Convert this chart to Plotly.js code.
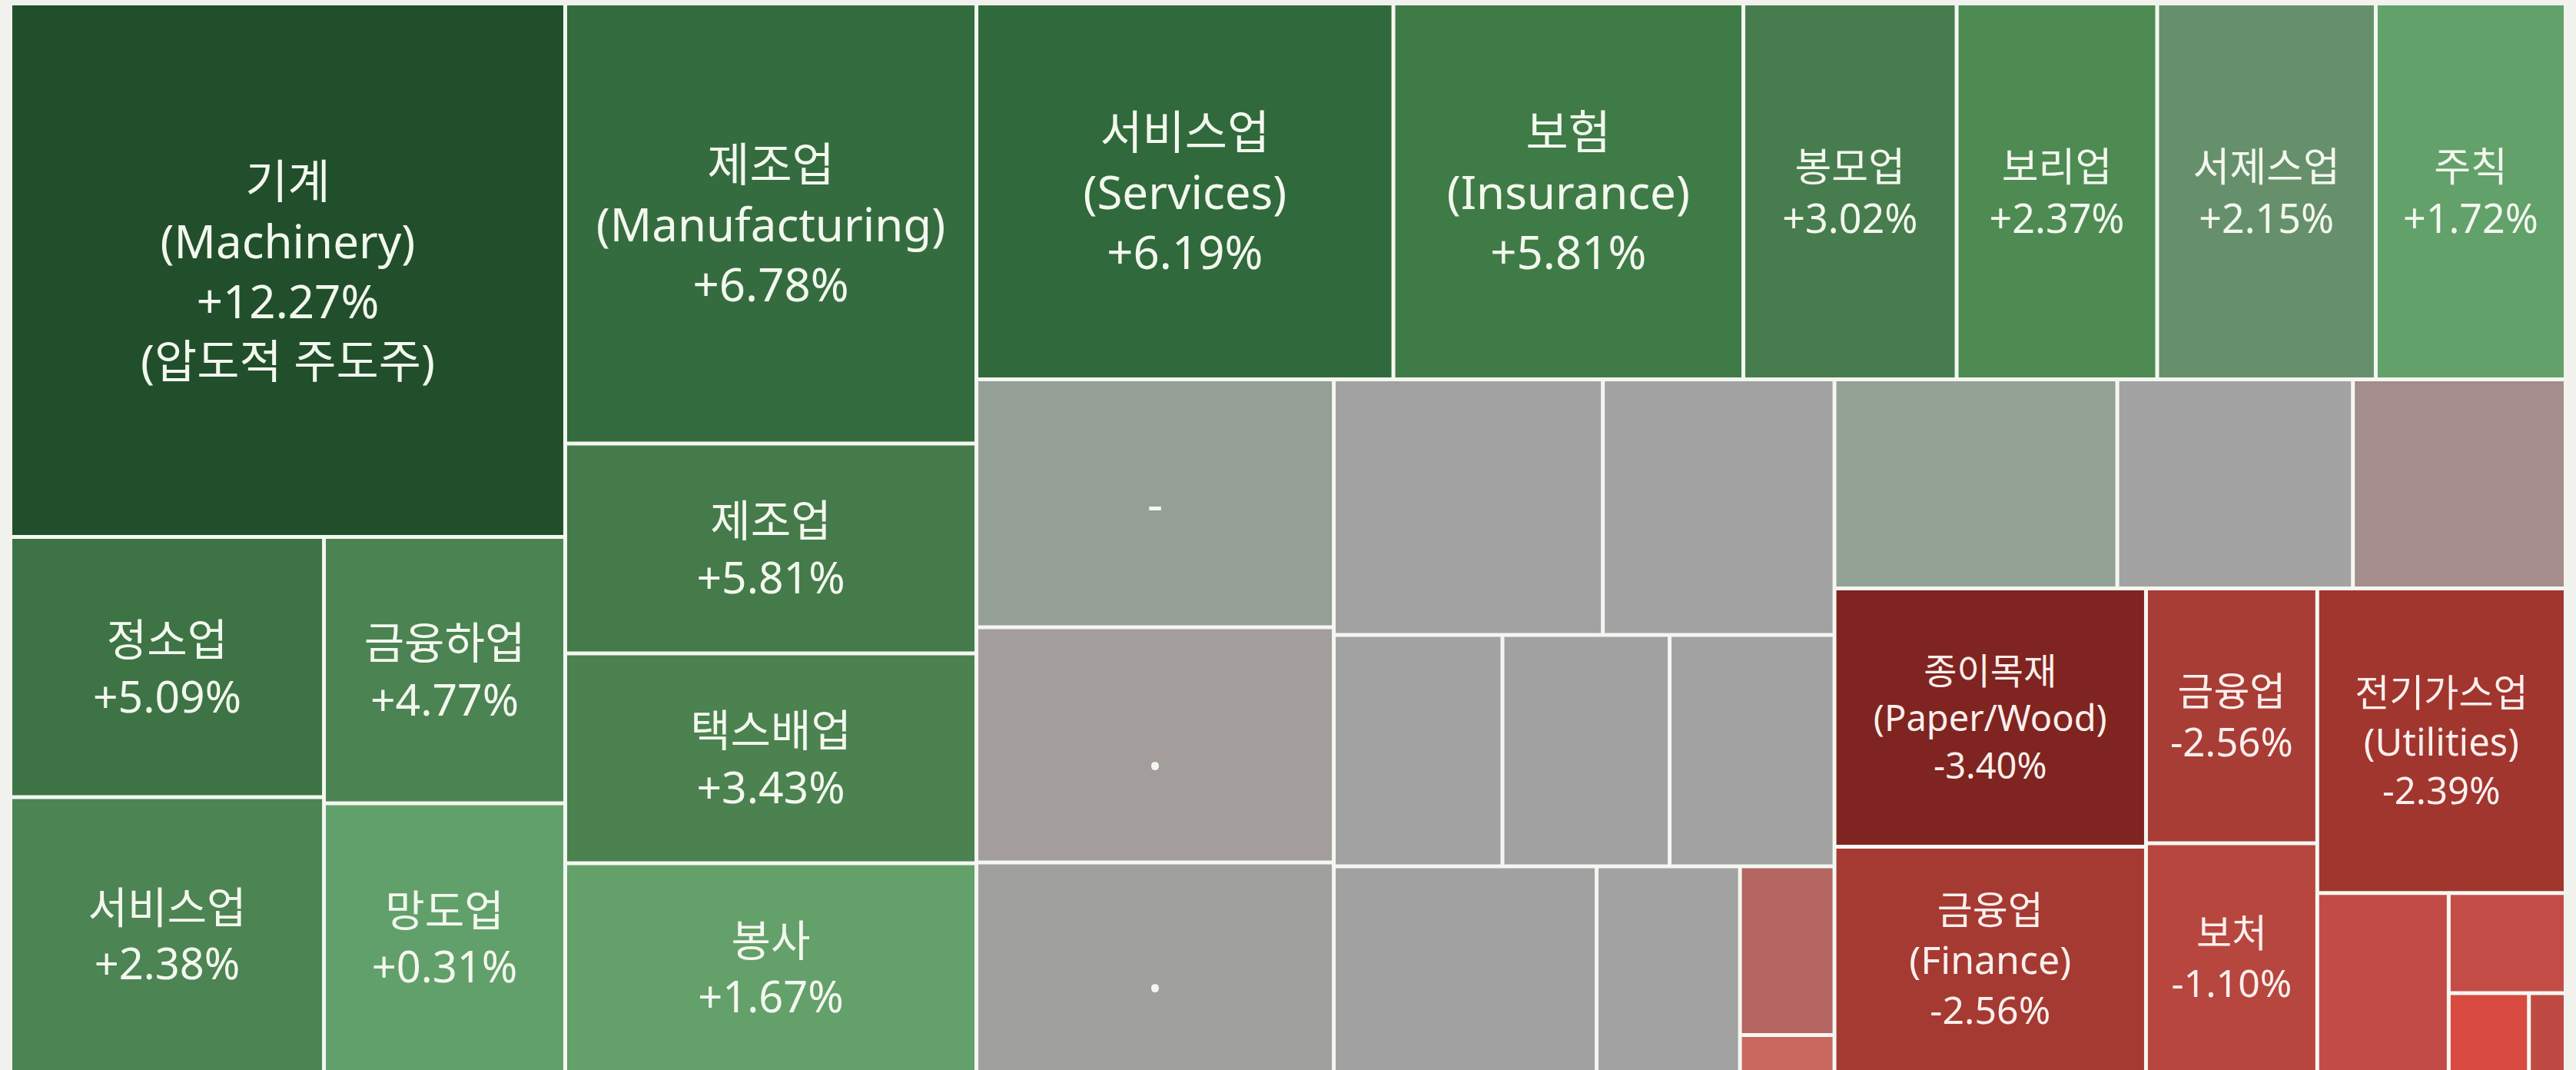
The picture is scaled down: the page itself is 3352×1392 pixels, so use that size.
<!DOCTYPE html>
<html>
<head>
<meta charset="utf-8">
<script src="https://cdn.plot.ly/plotly-3.0.1.min.js"></script>
<style>
  html, body { margin: 0; padding: 0; background: #f1f2ed; }
  #chart { width: 3352px; height: 1392px; }
</style>
</head>
<body>
<div id="chart"></div>
<script>
// ---------- DATA ----------
// leaf cells (sector name, English name, % change, note, weight = cell size, in thousands)
const cellIds = ['machinery','jeongso','service2','geumyungha','mangdo',
  'manuf','manuf2','taxbae','bongsa',
  'services','insurance','bongmo','bori','seoje','juchik',
  'n1','n2','n3','n4','n5','n6','n7','n8','n9','n10','n11','n12',
  'n13','n14','n15',
  'paper','finance','finance2','bocheo','utilities','n16','n17','n18','n19'];
const cellParents = ['A','A_L','A_L','A_R','A_R',
  'B','B','B','B',
  'C_top','C_top','C_top','C_top','C_top','C_top',
  'C1','C1','C1','C2_r1','C2_r1','C2_r2','C2_r2','C2_r2','C2_r3','C2_r3','C2_red','C2_red',
  'C3_r1','C3_r1','C3_r1',
  'C3_c1','C3_c1','C3_c2','C3_c2','C3_c3','C3_c3b','C3_c3bR','C3_c3bRb','C3_c3bRb'];
const sectorKo = ['기계','정소업','서비스업','금융하업','망도업',
  '제조업','제조업','택스배업','봉사',
  '서비스업','보험','봉모업','보리업','서제스업','주칙',
  '-','.','.','','','','','','','','','',
  '','','',
  '종이목재','금융업','금융업','보처','전기가스업','','','',''];
const sectorEn = ['Machinery','','','','',
  'Manufacturing','','','',
  'Services','Insurance','','','','',
  '','','','','','','','','','','','',
  '','','',
  'Paper/Wood','Finance','','','Utilities','','','',''];
const changePct = [12.27, 5.09, 2.38, 4.77, 0.31,
  6.78, 5.81, 3.43, 1.67,
  6.19, 5.81, 3.02, 2.37, 2.15, 1.72,
  null,null,null,null,null,null,null,null,null,null,null,null,
  null,null,null,
  -3.40, -2.56, -2.56, -1.10, -2.39, null,null,null,null];
const cellNote = ['압도적 주도주','','','','','','','','','','','','','','',
  '','','','','','','','','','','','','','','','','','','','','','','',''];
const cellWeight = [501.1, 138.1, 145.9, 108.8, 109.7,
  306.3, 146.1, 146.1, 145.3,
  265.3, 222.7, 135.7, 127.6, 139.1, 120.8,
  150.0, 142.3, 126.7, 116.4, 100.2, 66.1, 65.5, 64.6, 91.5, 49.9, 27.0, 5.9,
  100.1, 83.4, 75.3,
  136.2, 118.8, 73.9, 66.3, 128.1, 39.8, 19.8, 10.7, 4.9];

// hidden grouping nodes that define the tiling structure
const groupIds = ['root','A','A_bot','A_L','A_R','B','C','C_top','C_bot','C1','C2',
  'C2_r1','C2_r2','C2_r3','C2_red','C3','C3_r1','C3_r2','C3_c1','C3_c2','C3_c3',
  'C3_c3b','C3_c3bR','C3_c3bRb'];
const groupParents = ['','root','A','A_bot','A_bot','root','root','C','C','C_bot','C_bot',
  'C2','C2','C2','C2_r3','C_bot','C3','C3','C3_r2','C3_r2','C3_r2',
  'C3_c3','C3_c3b','C3_c3bR'];

// ---------- STYLE ----------
const cellColors = ['#214f2c','#3e7445','#4c8453','#4b8352','#62a06b',
  '#356c3f','#457a4a','#4b8250','#64a06a',
  '#30693b','#3f7b47','#477d4e','#4d8b53','#66906b','#62a16a',
  '#949f95','#a39d9c','#a0a09e','#a2a2a2','#a2a2a2','#a2a2a2','#a1a1a1','#a2a2a2','#a1a1a1','#a2a2a2','#b56562','#c8685e',
  '#93a294','#a3a3a3','#a58d8b',
  '#7f2420','#a53a33','#a83d36','#b7463f','#a1362f','#c24c45','#c44c47','#d94b40','#bf4a43'];
const cellFontSize = [60,57,56,57,56,
  60,57,57,56,
  60,60,52,52,52,52,
  64,80,80,40,40,40,40,40,40,40,40,40,
  40,40,40,
  47,50,51,50,49,40,40,40,40];
const gapColor = '#f4f7f1';

// ---------- BUILD ----------
function fmt(v) { return (v > 0 ? '+' : '') + v.toFixed(2) + '%'; }
const cellText = cellIds.map((_, i) => {
  const lines = [];
  if (sectorKo[i]) lines.push(sectorKo[i]);
  if (sectorEn[i]) lines.push('(' + sectorEn[i] + ')');
  if (changePct[i] !== null) lines.push(fmt(changePct[i]));
  if (cellNote[i]) lines.push('(' + cellNote[i] + ')');
  return lines.join('<br>');
});
const fontColors = cellIds.map((_, i) => (changePct[i] !== null && changePct[i] < 0) ? '#fbefec' : '#f3f8ee');

const ids = cellIds.concat(groupIds);
const parents = cellParents.concat(groupParents);
const labels = sectorKo.map((s, i) => s || cellIds[i]).concat(groupIds);
const values = cellWeight.concat(groupIds.map(() => 0));
const text = cellText.concat(groupIds.map(() => ''));
const colors = cellColors.concat(groupIds.map(() => gapColor));
const sizes = cellFontSize.concat(groupIds.map(() => 20));
const tcolors = fontColors.concat(groupIds.map(() => '#ffffff'));

const trace = {
  type: 'treemap',
  ids: ids,
  labels: labels,
  parents: parents,
  values: values,
  text: text,
  branchvalues: 'remainder',
  sort: false,
  textinfo: 'text',
  textposition: 'middle center',
  textfont: { family: '"Noto Sans", "Noto Sans CJK KR", sans-serif', size: sizes, color: tcolors },
  insidetextfont: { family: '"Noto Sans", "Noto Sans CJK KR", sans-serif', size: sizes, color: tcolors },
  tiling: { packing: 'slice-dice', pad: 5 },
  marker: { colors: colors, line: { width: 0 }, pad: { t: 0, l: 0, r: 0, b: 0 }, depthfade: false },
  leaf: { opacity: 1 },
  pathbar: { visible: false },
  hoverinfo: 'skip'
};

const layout = {
  width: 3352,
  height: 1392,
  margin: { l: 16, r: 16, t: 7, b: 0, pad: 0 },
  paper_bgcolor: '#f1f2ed',
  showlegend: false
};

Plotly.newPlot('chart', [trace], layout, { displayModeBar: false, staticPlot: true });
</script>
</body>
</html>
